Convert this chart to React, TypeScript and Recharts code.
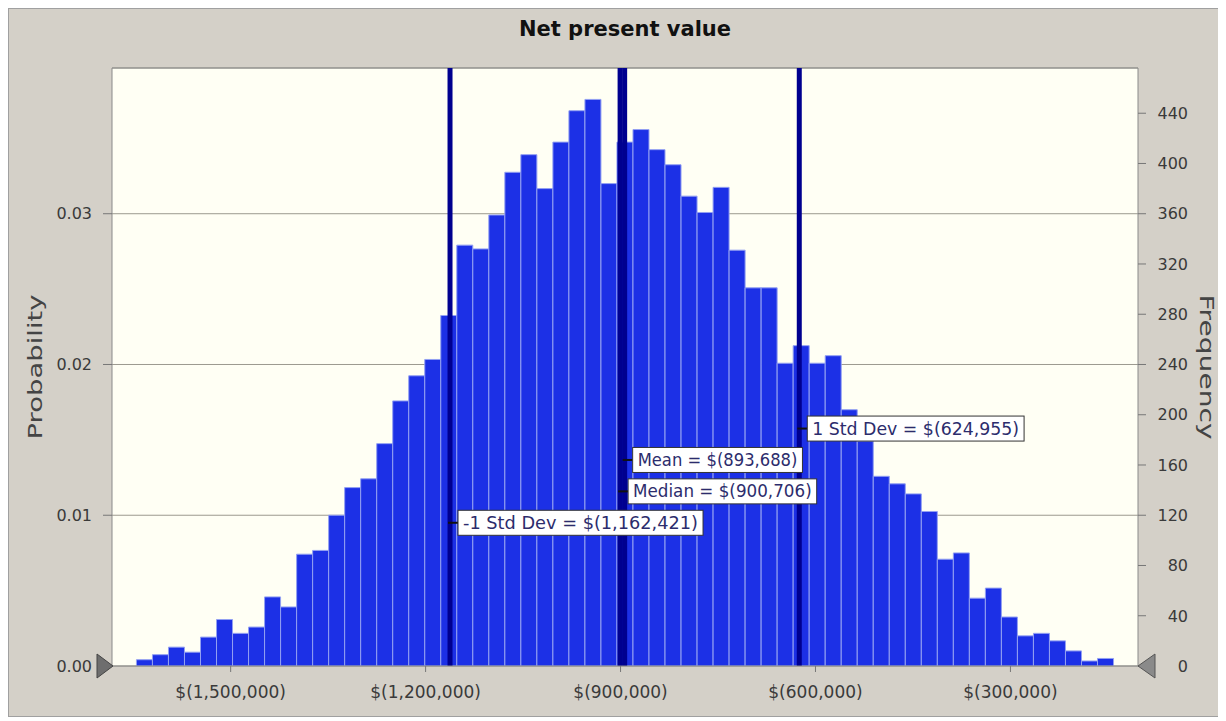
import {
  Bar,
  BarChart,
  CartesianGrid,
  ReferenceDot,
  ReferenceLine,
  XAxis,
  YAxis,
} from "recharts";

// simulation: 12,000 trials, counts per bin
const TRIALS = 12000;
const BIN_START = -1645000;
const BIN_WIDTH = 24650;

const frequencies = [
  5, 9, 15, 11, 23, 37, 26, 31, 55, 47, 89, 92, 120, 142, 149, 177, 211, 231,
  244, 279, 335, 332, 359, 393, 407, 380, 417, 442, 451, 384, 417, 427, 411,
  399, 374, 361, 381, 331, 301, 301, 241, 255, 241, 247, 204, 179, 151, 145,
  137, 123, 85, 90, 54, 62, 39, 24, 26, 20, 12, 4, 6,
];

const xTicks = [-1500000, -1200000, -900000, -600000, -300000];
const freqTicks = [0, 40, 80, 120, 160, 200, 240, 280, 320, 360, 400, 440];
const probTicks = [0, 0.01, 0.02, 0.03];

const markerNames = ["-1 Std Dev", "Mean", "Median", "1 Std Dev"];
const markerValues = [-1162421, -893688, -900706, -624955];
// frequency level where each marker's label box sits
const markerLevels = [114, 164, 139, 189];

const X_DOMAIN: [number, number] = [-1682600, -103700];
const FREQ_MAX = 476;

const bins = frequencies.map((freq, i) => ({
  mid: BIN_START + (i + 0.5) * BIN_WIDTH,
  freq,
}));

const money = (v: number) =>
  `$(${Math.abs(Math.round(v)).toLocaleString("en-US")})`;

function MarkerLabel({ viewBox, text, level }: any) {
  if (!viewBox) return null;
  const { x, y, height } = viewBox;
  const cy = y + (1 - level / FREQ_MAX) * height;
  const w = text.length * 9.4;
  const bx = x + 8;
  return (
    <g>
      <line x1={x - 2} x2={bx} y1={cy} y2={cy} stroke="#111" strokeWidth={2} />
      <rect
        x={bx}
        y={cy - 12.5}
        width={w + 10}
        height={25}
        fill="#ffffff"
        stroke="#333"
      />
      <text
        x={bx + 5}
        y={cy}
        dy="0.36em"
        fontSize={17}
        fill="#2c2c6c"
        textLength={w}
        lengthAdjust="spacingAndGlyphs"
      >
        {text}
      </text>
    </g>
  );
}

function AxisTitle({ viewBox, title, shift, rot }: any) {
  if (!viewBox) return null;
  const cx = viewBox.x + shift;
  const cy = viewBox.y + viewBox.height / 2;
  return (
    <text
      x={cx}
      y={cy}
      transform={`rotate(${rot}, ${cx}, ${cy})`}
      textAnchor="middle"
      dominantBaseline="central"
      fontSize={20}
      fill="#444"
      textLength={145}
      lengthAdjust="spacingAndGlyphs"
    >
      {title}
    </text>
  );
}

function RightTick({ x, y, payload }: any) {
  return (
    <text x={x + 38} y={y} dy="0.36em" textAnchor="end" fontSize={16} fill="#3a3a3a">
      {payload.value}
    </text>
  );
}

const leftHandle = ({ cx, cy }: any) => (
  <path
    d={`M${cx - 15},${cy - 12} L${cx + 1},${cy} L${cx - 15},${cy + 12} Z`}
    fill="#6e6e6e"
    stroke="#444"
  />
);

const rightHandle = ({ cx, cy }: any) => (
  <path
    d={`M${cx + 17},${cy - 12} L${cx},${cy} L${cx + 17},${cy + 12} Z`}
    fill="#8a8a8a"
    stroke="#555"
  />
);

export default function App() {
  return (
    <div
      style={{
        position: "relative",
        width: 1211,
        height: 707,
        background: "#d4d0c8",
        border: "1px solid #a0a0a0",
        fontFamily: "'DejaVu Sans', sans-serif",
      }}
    >
      <div
        style={{
          position: "absolute",
          left: 103,
          top: 10,
          width: 1026,
          textAlign: "center",
          fontSize: 21,
          lineHeight: 1,
          fontWeight: "bold",
          color: "#111",
          zIndex: 1,
        }}
      >
        Net present value
      </div>
      <BarChart
        width={1211}
        height={707}
        data={bins}
        margin={{ top: 59, right: 22, bottom: 10, left: 43 }}
        barCategoryGap={0}
        barGap={0}
      >
        <CartesianGrid
          yAxisId="prob"
          vertical={false}
          fill="#fffff4"
          stroke="#9c9a8f"
        />
        <XAxis
          dataKey="mid"
          type="number"
          domain={X_DOMAIN}
          ticks={xTicks}
          tickFormatter={money}
          allowDataOverflow
          height={40}
          tickSize={6}
          tickMargin={14}
          axisLine={{ stroke: "#8a8a8a" }}
          tickLine={{ stroke: "#777" }}
          tick={{ fill: "#3a3a3a", fontSize: 17 }}
        />
        <YAxis
          yAxisId="prob"
          orientation="left"
          domain={[0, FREQ_MAX / TRIALS]}
          ticks={probTicks}
          tickFormatter={(v: number) => v.toFixed(2)}
          allowDataOverflow
          width={60}
          tickSize={9}
          tickMargin={11}
          axisLine={{ stroke: "#8a8a8a" }}
          tickLine={{ stroke: "#777" }}
          tick={{ fill: "#3a3a3a", fontSize: 16 }}
          label={<AxisTitle title="Probability" shift={-17} rot={-90} />}
        />
        <YAxis
          yAxisId="freq"
          orientation="right"
          domain={[0, FREQ_MAX]}
          ticks={freqTicks}
          allowDataOverflow
          width={60}
          tickSize={8}
          tickMargin={4}
          axisLine={{ stroke: "#8a8a8a" }}
          tickLine={{ stroke: "#777" }}
          tick={<RightTick />}
          label={<AxisTitle title="Frequency" shift={69} rot={90} />}
        />
        <Bar
          yAxisId="freq"
          dataKey="freq"
          fill="#1c30e6"
          stroke="#93a0f2"
          strokeWidth={1}
          barSize={16}
          isAnimationActive={false}
        />
        <ReferenceLine yAxisId="freq" y={FREQ_MAX} stroke="#8a8a8a" />
        {markerValues.map((v, i) => (
          <ReferenceLine
            key={`line-${markerNames[i]}`}
            yAxisId="freq"
            x={v}
            stroke="#00008f"
            strokeWidth={5}
          />
        ))}
        {markerValues.map((v, i) => (
          <ReferenceLine
            key={`label-${markerNames[i]}`}
            yAxisId="freq"
            x={v}
            stroke="none"
            label={
              <MarkerLabel
                text={`${markerNames[i]} = ${money(v)}`}
                level={markerLevels[i]}
              />
            }
          />
        ))}
        <ReferenceDot
          yAxisId="freq"
          x={X_DOMAIN[0]}
          y={0}
          ifOverflow="visible"
          shape={leftHandle}
        />
        <ReferenceDot
          yAxisId="freq"
          x={X_DOMAIN[1]}
          y={0}
          ifOverflow="visible"
          shape={rightHandle}
        />
      </BarChart>
    </div>
  );
}
